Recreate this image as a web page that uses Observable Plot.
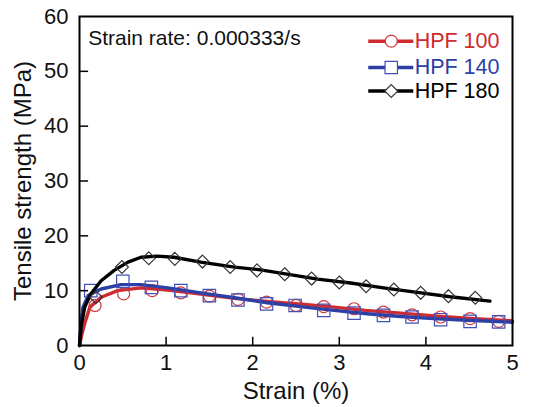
<!DOCTYPE html>
<html><head><meta charset="utf-8">
<script src="https://cdn.jsdelivr.net/npm/d3@7"></script>
<script src="https://cdn.jsdelivr.net/npm/@observablehq/plot@0.6"></script>
<style>body{margin:0;background:#fff;font-family:"Liberation Sans",Arial,sans-serif}</style>
</head><body><div id="chart"></div>
<script>
// Series names and colors
const seriesNames = ["HPF 100", "HPF 140", "HPF 180"];
const seriesColors = ["#cf2a2f", "#2c3fa5", "#000000"];
const seriesSymbols = ["circle", "square", "diamond2"];

// Curves (strain %, MPa)
const hpf100Strain = [0, 0.03, 0.06, 0.12, 0.25, 0.44, 0.71, 1.02, 1.40, 1.79, 2.2, 2.6, 2.94, 3.3, 3.71, 4.1, 4.47, 5.0];
const hpf100Stress = [0, 2.2, 4.0, 7.0, 8.8, 10.0, 10.5, 10.1, 9.4, 8.6, 8.0, 7.5, 7.0, 6.4, 5.9, 5.4, 5.0, 4.5];
const hpf140Strain = [0, 0.02, 0.04, 0.10, 0.25, 0.48, 0.71, 1.02, 1.40, 1.79, 2.17, 2.55, 2.94, 3.32, 3.71, 4.09, 4.47, 5.0];
const hpf140Stress = [0, 4.5, 7.0, 9.1, 10.3, 11.1, 11.1, 10.5, 9.6, 8.7, 7.8, 7.1, 6.4, 5.8, 5.3, 4.9, 4.6, 4.25];
const hpf180Strain = [0, 0.02, 0.06, 0.13, 0.25, 0.40, 0.56, 0.71, 0.90, 1.09, 1.40, 1.79, 2.09, 2.36, 2.75, 3.13, 3.51, 3.90, 4.28, 4.74];
const hpf180Stress = [0, 3.5, 7.0, 9.4, 11.8, 13.7, 15.2, 16.1, 16.3, 16.1, 15.2, 14.3, 13.8, 13.1, 12.1, 11.4, 10.5, 9.7, 8.9, 8.1];

// Marker points
const hpf100MarkStrain = [0.18, 0.51, 0.84, 1.17, 1.50, 1.83, 2.16, 2.50, 2.82, 3.17, 3.51, 3.84, 4.17, 4.51, 4.84];
const hpf100MarkStress = [7.3, 9.4, 10.0, 9.6, 9.0, 8.4, 7.9, 7.3, 7.1, 6.7, 6.1, 5.6, 5.2, 4.9, 4.4];
const hpf140MarkStrain = [0.13, 0.50, 0.83, 1.17, 1.50, 1.83, 2.16, 2.49, 2.82, 3.17, 3.51, 3.84, 4.17, 4.51, 4.84];
const hpf140MarkStress = [10.0, 11.7, 10.6, 10.0, 9.1, 8.3, 7.6, 7.3, 6.4, 5.9, 5.5, 5.2, 4.7, 4.4, 4.3];
const hpf180MarkStrain = [0.19, 0.49, 0.80, 1.10, 1.42, 1.74, 2.05, 2.37, 2.68, 3.00, 3.31, 3.63, 3.94, 4.26, 4.57];
const hpf180MarkStress = [8.8, 14.3, 15.9, 15.8, 15.3, 14.3, 13.7, 13.0, 12.2, 11.5, 10.8, 10.2, 9.6, 9.0, 8.7];

// Axis ticks and labels
const xTicks = [0, 1, 2, 3, 4, 5];
const yTicks = [0, 10, 20, 30, 40, 50, 60];
const xLabel = "Strain (%)";
const yLabel = "Tensile strength (MPa)";
const annotation = "Strain rate: 0.000333/s";

// Legend placement (data units)
const legendX1 = 3.34, legendX2 = 3.86, legendTextX = 3.87;
const legendY = [55.5, 50.7, 46.4];

const zip = (xs, ys) => xs.map((x, i) => ({x, y: ys[i]}));
const curves = [zip(hpf100Strain, hpf100Stress), zip(hpf140Strain, hpf140Stress), zip(hpf180Strain, hpf180Stress)];
const marks = [zip(hpf100MarkStrain, hpf100MarkStress), zip(hpf140MarkStrain, hpf140MarkStress), zip(hpf180MarkStrain, hpf180MarkStress)];
const legend = seriesNames.map((name, i) => ({name, i, y: legendY[i]}));
const markR = [6, 7, 5.8];
const markColors = ["#d23a3f", "#4050b5", "#333333"];

const layers = [];
curves.forEach((c, i) => {
  layers.push(Plot.line(c, {x: "x", y: "y", stroke: seriesColors[i], strokeWidth: 3.4, curve: "linear"}));
  layers.push(Plot.dot(marks[i], {x: "x", y: "y", symbol: seriesSymbols[i], r: markR[i], stroke: markColors[i], strokeWidth: 1.2, fill: "none"}));
});
// legend
legend.forEach(l => {
  layers.push(Plot.ruleY([l], {y: "y", x1: legendX1, x2: legendX2, stroke: seriesColors[l.i], strokeWidth: 3.4}));
  layers.push(Plot.dot([l], {x: (legendX1 + legendX2) / 2, y: "y", symbol: seriesSymbols[l.i], r: markR[l.i], stroke: markColors[l.i], strokeWidth: 1.2, fill: "white"}));
  layers.push(Plot.text([l], {x: legendTextX, y: "y", text: "name", fill: seriesColors[l.i], textAnchor: "start", fontSize: 21.5}));
});
layers.push(Plot.text([annotation], {x: 0.1, y: 56.0, text: d => d, textAnchor: "start", fontSize: 21, fill: "#111"}));
// inward ticks
layers.push(Plot.ruleX(xTicks.slice(1, -1), {x: d => d, y1: 0, y2: 1.5, stroke: "black", strokeWidth: 1.5}));
layers.push(Plot.ruleY(yTicks.slice(1, -1), {y: d => d, x1: 0, x2: 0.105, stroke: "black", strokeWidth: 1.5}));
layers.push(Plot.frame({stroke: "black", strokeWidth: 2}));
layers.push(Plot.axisX({ticks: xTicks, tickSize: 0, tickPadding: 9, fontSize: 22, tickFormat: d3.format("d"), label: null}));
layers.push(Plot.axisY({ticks: yTicks, tickSize: 0, tickPadding: 11, fontSize: 22, tickFormat: d3.format("d"), label: null}));

const plot = Plot.plot({
  width: 541, height: 407,
  marginLeft: 79, marginRight: 29, marginTop: 16, marginBottom: 62,
  x: {domain: [0, 5]},
  y: {domain: [0, 60]},
  style: {fontFamily: "'Liberation Sans', Arial, sans-serif", color: "#111", background: "white"},
  marks: [
    ...layers,
    Plot.text([xLabel], {frameAnchor: "bottom", lineAnchor: "middle", dy: 46, text: d => d, fontSize: 24, fill: "#111"}),
    Plot.text([yLabel], {frameAnchor: "left", textAnchor: "middle", lineAnchor: "middle", dx: -56, rotate: -90, text: d => d, fontSize: 24, fill: "#111"})
  ]
});
document.getElementById("chart").appendChild(plot);
</script></body></html>
